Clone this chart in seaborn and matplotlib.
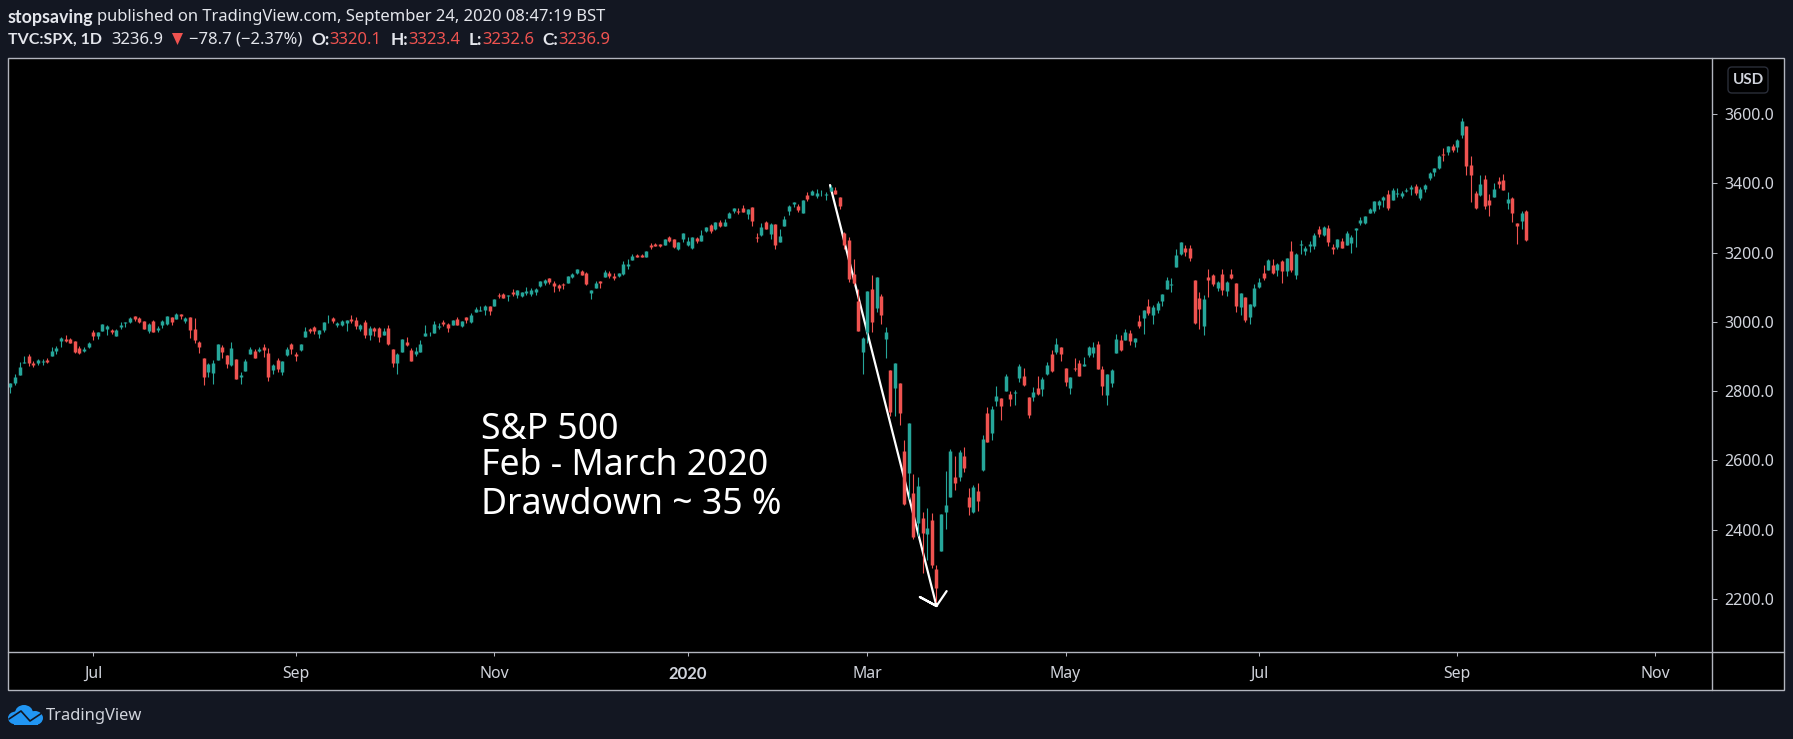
import matplotlib
matplotlib.use("Agg")
import matplotlib.pyplot as plt
from matplotlib.patches import Rectangle, FancyBboxPatch, Ellipse, Polygon
import pandas as pd
import seaborn as sns

opens = [
 2813,2824,2847,2882,2902,2880,2880,2883,2889,2902, 2916,2945,2951,2951,2945,2925,2916,2928,2971,2959,
 2974,2980,2977,2959,2985,2997,3000,3016,3011,3003, 2974,3003,2977,2991,2994,3014,3008,3023,3003,3014,
 2980,2942,2896,2855,2853,2890,2928,2905,2876,2893, 2841,2858,2907,2916,2916,2928,2910,2861,2890,2855,
 2905,2936,2907,2919,2957,2980,2985,2965,2977,3007, 3011,2991,2991,2997,3008,3006,2980,3000,2962,2982,
 2982,2962,2982,2922,2881,2913,2942,2919,2907,2913, 2959,2964,2968,2984,3000,2994,2991,3008,2988,3014,
 2999,3028,3032,3034,3046,3046,3077,3080,3074,3086, 3078,3075,3083,3080,3086,3104,3112,3127,3112,3106,
 3109,3112,3129,3141,3147,3141,3083,3098,3118,3129, 3141,3132,3132,3138,3161,3179,3193,3193,3187,3222,
 3225,3225,3222,3245,3239,3210,3239,3222,3213,3242, 3233,3262,3280,3268,3287,3277,3299,3320,3320,3328,
 3311,3331,3245,3250,3288,3253,3282,3230,3276,3320, 3340,3334,3314,3366,3366,3363,3374,3367,3377,3380,
 3360,3256,3236,3138,3060,2913,2970,3095,3040,3074, 2950,2861,2809,2823,2627,2564,2506,2419,2434,2387,
 2428,2286,2338,2451,2494,2552,2552,2613,2494,2451, 2512,2572,2737,2679,2771,2780,2800,2792,2796,2838,
 2844,2783,2783,2809,2806,2850,2907,2913,2927,2867, 2809,2867,2881,2873,2904,2910,2936,2864,2789,2824,
 2910,2948,2948,2968,2942,3002,3011,3046,3020,3034, 3060,3095,3107,3158,3196,3213,3213,3121,3069,2988,
 3129,3135,3098,3138,3089,3138,3112,3043,3072,3014, 3046,3101,3141,3150,3164,3150,3175,3146,3204,3135,
 3222,3204,3219,3219,3268,3250,3271,3216,3216,3233, 3222,3227,3265,3285,3285,3314,3320,3337,3351,3369,
 3351,3368,3363,3378,3383,3392,3357,3383,3415,3432, 3444,3484,3490,3507,3504,3539,3565,3452,3372,3366,
 3412,3351,3360,3406,3409,3343,3357,3285,3291,3320.1,
]
highs = [
 2824,2850,2884,2902,2907,2887,2893,2893,2896,2928, 2931,2957,2962,2953,2945,2931,2928,2942,2977,2971,
 2994,2991,2980,2979,3000,3000,3013,3017,3014,3003, 2997,3006,2988,3006,3017,3014,3026,3023,3014,3014,
 3011,2945,2896,2881,2890,2936,2933,2905,2942,2893, 2855,2893,2928,2922,2928,2936,2925,2879,2896,2887,
 2928,2939,2913,2936,2985,2982,2988,2977,3000,3020, 3014,3000,3006,3006,3020,3014,2994,3006,2988,2985,
 2985,2982,2991,2922,2910,2951,2957,2925,2928,2948, 2991,2971,3003,2997,3006,2997,3005,3014,3003,3014,
 3026,3043,3046,3049,3046,3066,3083,3083,3077,3095, 3092,3086,3101,3098,3098,3118,3124,3127,3118,3109,
 3112,3132,3141,3153,3150,3144,3092,3118,3118,3150, 3147,3141,3140,3176,3181,3196,3196,3196,3205,3227,
 3228,3225,3239,3248,3239,3230,3256,3245,3245,3245, 3265,3274,3282,3288,3294,3296,3317,3328,3328,3337,
 3325,3331,3256,3285,3291,3285,3282,3268,3305,3337, 3346,3340,3351,3374,3380,3383,3380,3374,3395,3389,
 3360,3259,3245,3181,3095,2956,3089,3135,3129,3080, 2985,2861,2881,2823,2659,2708,2561,2552,2451,2463,
 2448,2298,2445,2569,2633,2613,2630,2639,2520,2529, 2535,2673,2754,2757,2815,2780,2850,2800,2803,2878,
 2867,2783,2812,2844,2841,2884,2919,2953,2927,2867, 2841,2896,2890,2899,2930,2942,2945,2873,2850,2864,
 2965,2962,2979,2976,2953,3020,3034,3066,3049,3060, 3080,3129,3127,3210,3230,3222,3222,3121,3086,3078,
 3153,3138,3118,3153,3118,3153,3112,3083,3072,3052, 3109,3127,3164,3181,3181,3170,3178,3184,3233,3198,
 3236,3219,3233,3256,3276,3276,3279,3224,3239,3242, 3262,3250,3271,3302,3305,3328,3348,3351,3363,3380,
 3386,3386,3377,3386,3395,3398,3389,3398,3432,3444, 3481,3501,3507,3513,3527,3588,3565,3478,3377,3424,
 3424,3369,3400,3418,3426,3374,3360,3285,3320,3323.4,
]
lows = [
 2795,2818,2847,2882,2873,2870,2876,2876,2881,2902, 2908,2928,2942,2939,2910,2907,2913,2925,2948,2951,
 2974,2962,2965,2959,2980,2985,2997,3003,2997,2980, 2968,2971,2971,2982,2991,2991,3008,3008,2997,2954,
 2939,2910,2818,2841,2821,2890,2896,2867,2873,2835, 2821,2858,2907,2896,2913,2899,2829,2850,2855,2847,
 2902,2907,2887,2916,2957,2968,2965,2954,2971,2997, 2997,2985,2988,2974,2997,2980,2974,2954,2948,2959,
 2942,2962,2933,2870,2850,2913,2930,2887,2902,2913, 2959,2959,2968,2980,2988,2971,2991,2991,2985,2997,
 2997,3028,3031,3020,3020,3046,3069,3069,3060,3075, 3069,3072,3078,3075,3078,3101,3106,3109,3086,3089,
 3095,3112,3127,3138,3135,3106,3066,3098,3098,3129, 3127,3121,3129,3135,3153,3179,3187,3187,3187,3210,
 3219,3216,3222,3230,3213,3207,3230,3219,3210,3228, 3233,3259,3256,3265,3274,3277,3299,3315,3311,3317,
 3297,3276,3230,3248,3268,3239,3210,3230,3276,3308, 3331,3317,3314,3349,3366,3357,3363,3351,3377,3369,
 3325,3210,3115,3106,2973,2849,2939,2970,3028,2994, 2895,2728,2728,2702,2471,2490,2373,2382,2275,2312,
 2289,2191,2338,2402,2494,2514,2540,2566,2442,2448, 2454,2569,2653,2659,2757,2717,2800,2757,2760,2826,
 2815,2723,2772,2789,2786,2847,2855,2907,2887,2815, 2792,2858,2844,2873,2899,2899,2864,2789,2760,2812,
 2910,2916,2948,2933,2927,2982,2965,3020,2994,3026, 3046,3095,3086,3158,3193,3190,3176,2994,2979,2962,
 3072,3103,3089,3078,3075,3124,3028,3020,2999,2994, 3043,3098,3121,3150,3138,3132,3112,3132,3144,3123,
 3196,3193,3201,3210,3245,3247,3219,3196,3210,3213, 3222,3198,3216,3279,3282,3314,3314,3325,3331,3323,
 3351,3360,3357,3374,3366,3366,3351,3374,3409,3421, 3441,3464,3481,3490,3490,3530,3424,3346,3325,3363,
 3325,3305,3360,3386,3380,3325,3288,3224,3268,3232.6,
]
closes = [
 2824,2841,2870,2884,2881,2875,2890,2886,2885,2916, 2925,2954,2945,2939,2913,2910,2922,2939,2959,2971,
 2994,2988,2971,2977,2991,2999,3011,3008,3000,2980, 2994,2971,2982,3003,3017,3000,3023,3017,3011,2977,
 2948,2928,2841,2879,2881,2936,2913,2879,2925,2835, 2847,2887,2922,2896,2922,2919,2841,2876,2864,2887,
 2922,2922,2902,2936,2974,2974,2974,2977,3000,3009, 3003,2997,3003,3006,3003,2988,2991,2962,2982,2974,
 2956,2974,2936,2881,2907,2951,2933,2887,2916,2936, 2968,2966,2994,2987,2994,2982,3005,2991,3003,3005,
 3020,3037,3034,3046,3031,3066,3074,3069,3077,3080, 3092,3086,3089,3092,3095,3118,3121,3115,3104,3098,
 3106,3132,3138,3153,3135,3109,3092,3112,3112,3144, 3132,3127,3140,3167,3167,3190,3188,3188,3205,3215,
 3219,3219,3239,3233,3216,3230,3256,3233,3245,3233, 3251,3274,3262,3288,3277,3289,3315,3328,3317,3317,
 3325,3291,3241,3273,3268,3282,3222,3248,3297,3334, 3346,3323,3351,3354,3377,3372,3376,3369,3390,3369,
 3334,3222,3123,3112,2973,2953,3089,3000,3129,3020, 2970,2740,2881,2737,2474,2708,2379,2526,2390,2405,
 2298,2232,2445,2471,2627,2535,2624,2578,2465,2523, 2483,2662,2653,2748,2786,2757,2844,2777,2798,2873,
 2818,2731,2798,2792,2835,2876,2858,2936,2907,2826, 2841,2864,2844,2878,2927,2927,2864,2815,2850,2861,
 2951,2919,2971,2945,2953,2988,3034,3026,3043,3054, 3080,3121,3109,3193,3230,3202,3184,2997,3037,3066,
 3121,3109,3115,3092,3115,3127,3046,3083,3005,3052, 3098,3115,3127,3179,3141,3167,3146,3184,3149,3196,
 3224,3213,3224,3250,3253,3273,3230,3210,3239,3213, 3256,3245,3271,3294,3305,3325,3348,3348,3360,3328,
 3380,3371,3372,3381,3389,3372,3383,3395,3429,3444, 3478,3481,3507,3496,3525,3579,3450,3424,3328,3398,
 3334,3337,3383,3398,3380,3354,3314,3276,3314,3236.9,
]
x_tick_bars = [18, 62, 105, 147, 186, 229, 271, 314, 357]
x_tick_labels = ["Jul", "Sep", "Nov", "2020", "Mar", "May", "Jul", "Sep", "Nov"]
y_ticks = [2200, 2400, 2600, 2800, 3000, 3200, 3400, 3600]
arrow_bars = [177.9, 201.0, 197.4, 201.0, 203.2]
arrow_prices = [3395, 2180, 2206, 2180, 2223]
note_lines = ["S&P 500", "Feb - March 2020", "Drawdown ~ 35 %"]

BG = "#131722"; FG = "#d1d4dc"; HEAD = "#e4e6ec"; LINE = "#b2b5be"
UP = "#26a69a"; DOWN = "#ef5350"
BOLD = "Lato"

sns.set_theme(style="dark", rc={"axes.facecolor": "black", "figure.facecolor": BG})
plt.rcParams["font.family"] = ["Noto Sans", "DejaVu Sans"]

fig = plt.figure(figsize=(17.93, 7.39), dpi=100, facecolor=BG)
W, H = 1793, 739
ax = fig.add_axes([8.5 / W, 1 - 652 / H, (1712 - 8.5) / W, (652 - 58) / H], zorder=2)

df = pd.DataFrame({"bar": range(len(opens)), "open": opens, "high": highs, "low": lows, "close": closes})
df["dir"] = ["up" if c >= o else "down" for o, c in zip(df["open"], df["close"])]
palette = {"up": UP, "down": DOWN}

wicks = df.melt(id_vars=["bar", "dir"], value_vars=["low", "high"], value_name="price")
bodies = df.melt(id_vars=["bar", "dir"], value_vars=["open", "close"], value_name="price")

sns.lineplot(x=arrow_bars, y=arrow_prices, sort=False, estimator=None, color="white",
             linewidth=1.6, zorder=1.5, ax=ax, legend=False)
sns.lineplot(data=wicks, x="bar", y="price", hue="dir", units="bar", estimator=None, sort=False,
             palette=palette, linewidth=0.8, solid_capstyle="butt", ax=ax, legend=False)
sns.lineplot(data=bodies, x="bar", y="price", hue="dir", units="bar", estimator=None, sort=False,
             palette=palette, linewidth=2.5, solid_capstyle="butt", ax=ax, legend=False)

ax.set_xlim(-0.39, 369.3)
ax.set_ylim(2047.3, 3761.6)
ax.set_xlabel(""); ax.set_ylabel("")
ax.grid(False)
for s in ax.spines.values():
    s.set_visible(False)
ax.yaxis.tick_right()
ax.set_yticks(y_ticks, [f"{v:.1f}" for v in y_ticks])
ax.set_xticks(x_tick_bars, x_tick_labels)
ax.tick_params(axis="y", right=True, length=3.6, width=0.75, color=LINE, labelcolor=FG, labelsize=11.5, pad=5)
ax.tick_params(axis="x", bottom=True, length=3, width=0.75, color=LINE, labelcolor=FG, labelsize=11.4, pad=7)
for lab in ax.get_xticklabels():
    if lab.get_text() == "2020":
        lab.set_family(BOLD)
        lab.set_fontweight("bold")
        lab.set_fontsize(12)

fig.add_artist(Rectangle((8 / W, 1 - 690 / H), (1784 - 8) / W, (690 - 58) / H, transform=fig.transFigure,
                         facecolor="black", edgecolor="none", zorder=-1))

ov = fig.add_axes([0, 0, 1, 1], zorder=5)
ov.set_xlim(0, W); ov.set_ylim(H, 0); ov.axis("off"); ov.patch.set_alpha(0)
ov.add_patch(Rectangle((8, 58), 1776, 632, fill=False, edgecolor=LINE, linewidth=1))
ov.plot([1712, 1712], [58, 690], color=LINE, lw=1)
ov.plot([8, 1784], [652, 652], color=LINE, lw=1)
ov.add_patch(FancyBboxPatch((1731, 70), 34, 20, boxstyle="round,pad=3,rounding_size=4",
                            facecolor="none", edgecolor="#2a2e39", linewidth=1))
ov.text(1748, 80, "USD", color=FG, fontsize=11, ha="center", va="center", family=BOLD, fontweight="bold")

HS = 11.95
def head(x, y, s, color=HEAD, size=HS):
    ov.text(x, y, s, color=color, fontsize=size, ha="left", va="center")
def bold(x, y, s, size=12.4):
    ov.text(x, y, s, color=HEAD, fontsize=size, ha="left", va="center", family=BOLD, fontweight="bold")

bold(8, 17, "stopsaving", size=12.9)
head(97, 17, "published on TradingView.com, September 24, 2020 08:47:19 BST")
bold(8, 40, "TVC:SPX, 1D", size=11.5)
head(111.5, 40, "3236.9")
ov.add_patch(Polygon([(172, 33), (183, 33), (177.5, 45)], closed=True, facecolor=DOWN, edgecolor="none"))
head(189, 40, "\u221278.7 (\u22122.37%)")
for x0, lab, x1, val in [(311, "O:", 329.5, "3320.1"), (391, "H:", 408.5, "3323.4"),
                         (469, "L:", 482, "3232.6"), (542, "C:", 558, "3236.9")]:
    bold(x0, 40, lab)
    head(x1, 40, val, color=DOWN)

for y, s in zip([430, 466, 505], note_lines):
    ov.text(481, y, s, color="white", fontsize=25.6, ha="left", va="center")

for cx, cy, w, h in [(16, 718, 16, 13), (24, 713, 18, 16), (35, 718, 16, 14)]:
    ov.add_patch(Ellipse((cx, cy), w, h, facecolor="#2196f3", edgecolor="none"))
ov.add_patch(Rectangle((14, 718), 24, 7, facecolor="#2196f3", edgecolor="none"))
ov.plot([9, 21, 30, 42], [719, 711, 721, 713], color=BG, lw=1.2)
ov.text(46, 716.5, "TradingView", color=FG, fontsize=11.9, ha="left", va="center")

fig.savefig("out.png", dpi=100, facecolor=BG)
